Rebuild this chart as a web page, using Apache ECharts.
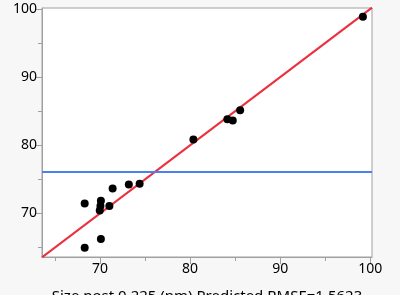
<!DOCTYPE html>
<html><head><meta charset="utf-8">
<script src="https://cdn.jsdelivr.net/npm/echarts@6/dist/echarts.min.js"></script>
<style>html,body{margin:0;padding:0;background:#f7f7f7}#c{width:400px;height:295px}</style>
</head><body><div id="c"></div>
<script>
const actual = [68.3, 68.3, 70.1, 70.1, 70.05, 69.97, 71.04, 71.4, 73.2, 74.4, 80.37, 84.14, 84.74, 85.56, 99.19];
const predicted = [71.47, 64.97, 66.25, 71.87, 71.1, 70.42, 71.07, 73.65, 74.23, 74.35, 80.83, 83.82, 83.63, 85.15, 98.87];
const meanLine = 76.07;
const majorTicks = [70, 80, 90, 100];
const minorTicks = [65, 75, 85, 95];
const xRange = [63.56, 100.2];
const yRange = [63.6, 100.15];
const axisTitle = 'Size post 0.225 (nm) Predicted RMSE=1.5623';

const font = 'Noto Sans';
const chart = echarts.init(document.getElementById('c'), null, {renderer: 'canvas'});
function axisBase(range, show, ticks, len) {
  return {
    type: 'value', min: range[0], max: range[1],
    axisLine: {show: show, lineStyle: {color: '#a0a0a0', width: 1}},
    splitLine: {show: false},
    axisTick: {show: true, length: len, customValues: ticks, lineStyle: {color: '#a0a0a0'}},
    axisLabel: {show: show, customValues: ticks, color: '#000', fontFamily: font, fontSize: 14, margin: 5}
  };
}
const xMaj = axisBase(xRange, true, majorTicks, 7);
xMaj.name = axisTitle; xMaj.nameLocation = 'middle'; xMaj.nameGap = 32;
xMaj.nameTextStyle = {color: '#000', fontFamily: font, fontSize: 15, verticalAlign: 'top'};
const xMin = axisBase(xRange, false, minorTicks, 4);
xMin.position = 'bottom';
const yMaj = axisBase(yRange, true, majorTicks, 7);
const yMin = axisBase(yRange, false, minorTicks, 4);
yMin.position = 'left';

chart.setOption({
  backgroundColor: '#f7f7f7',
  animation: false,
  grid: {left: 42, top: 8, right: 28, bottom: 38, outerBoundsMode: 'none', containLabel: false,
         show: true, backgroundColor: '#ffffff', borderColor: '#a0a0a0', borderWidth: 1},
  xAxis: [xMaj, xMin],
  yAxis: [yMaj, yMin],
  series: [
    {type: 'line', data: [[xRange[0], xRange[0]], [xRange[1], xRange[1]]], symbol: 'none',
     lineStyle: {color: '#ec3040', width: 2.2}, silent: true, z: 2,
     markLine: {symbol: 'none', silent: true, label: {show: false},
       lineStyle: {color: '#4d7ff0', width: 2, type: 'solid'}, data: [{yAxis: meanLine}]}},
    {type: 'scatter', data: actual.map((v, i) => [v, predicted[i]]), symbolSize: 8,
     itemStyle: {color: '#000', opacity: 1}, z: 3}
  ]
});
</script></body></html>
